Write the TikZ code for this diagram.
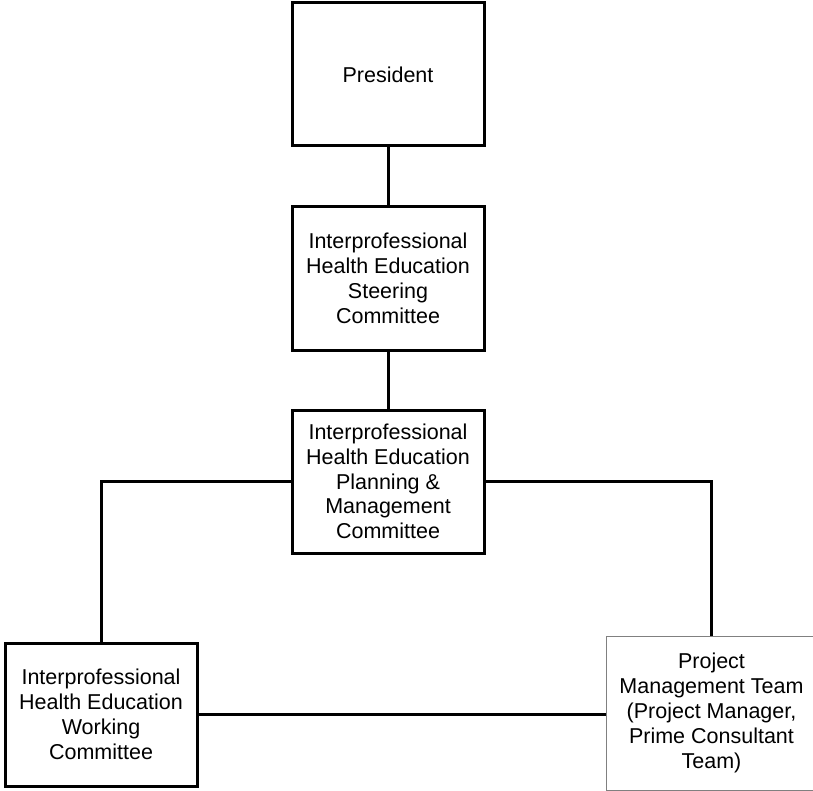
\documentclass[tikz,border=0pt]{standalone}
\usepackage{fontspec}
\setmainfont{Liberation Sans}
\begin{document}
\begin{tikzpicture}[x=1pt,y=-1pt,
  box/.style={draw=black,line width=3pt,fill=white,minimum width=192pt,minimum height=143pt,
    inner sep=0pt,align=center,font=\fontsize{21.5}{24.8}\selectfont},
  thinbox/.style={draw=black!50,line width=1pt,fill=white,minimum width=210pt,minimum height=154pt,
    inner sep=0pt,align=center,font=\fontsize{21.5}{24.8}\selectfont},
  conn/.style={draw=black,line width=3pt}]
\useasboundingbox (0,0) rectangle (813,791);
\clip (0,0) rectangle (813,791);
\node[box] (pres) at (388,74.5) {President};
\node[box] (steer) at (388,278.5) {Interprofessional\\Health Education\\Steering\\Committee};
\node[box] (plan) at (388,481.5) {Interprofessional\\Health Education\\Planning \&\\Management\\Committee};
\node[box] (work) at (101,714.5) {Interprofessional\\Health Education\\Working\\Committee};
\node[thinbox] (pmt) at (711.5,713) {Project\\Management Team\\(Project Manager,\\Prime Consultant\\Team)};
\draw[conn] (pres.south) -- (steer.north);
\draw[conn] (steer.south) -- (plan.north);
\draw[conn] (plan.west) -| (work.north);
\draw[conn] (plan.east) -| (pmt.north);
\draw[conn] (work.east) -- (work.east -| pmt.west);
\end{tikzpicture}
\end{document}
